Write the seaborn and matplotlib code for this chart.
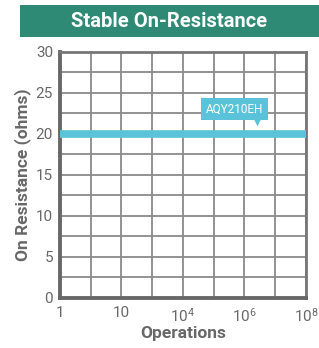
import numpy as np
import pandas as pd
import matplotlib
matplotlib.use('Agg')
import matplotlib.pyplot as plt
import seaborn as sns

# data
operations = [1, 1e8]
resistance = [20, 20]
series_name = 'AQY210EH'
tick_values = [1, 10, 1e4, 1e6, 1e8]
tick_labels = ['1', '10', '$10^4$', '$10^6$', '$10^8$']
y_ticks = [0, 5, 10, 15, 20, 25, 30]

df = pd.DataFrame({'Operations': operations, 'Resistance': resistance})

sns.set_style('white')
plt.rcParams['font.family'] = ['Roboto', 'DejaVu Sans']
plt.rcParams['mathtext.default'] = 'regular'

gray = '#686868'
grid_gray = '#8a8a8a'
blue = '#5bc3d9'
green = '#2e8a74'

# the x axis spaces its ticks evenly, it is not a true log scale
log_ticks = np.log10(tick_values)
pos_ticks = np.arange(len(tick_values)) * 2.0

def fwd(x):
    return np.interp(np.log10(np.clip(x, 1e-12, None)), log_ticks, pos_ticks)

def inv(p):
    return 10 ** np.interp(p, pos_ticks, log_ticks)

fig = plt.figure(figsize=(3.19, 3.48), dpi=100)
ax = fig.add_axes([0.188, 0.1437, 0.771, 0.707])
ax.set_xscale('function', functions=(fwd, inv))

sns.lineplot(data=df, x='Operations', y='Resistance', color=blue, linewidth=5.5, ax=ax,
             solid_capstyle='butt', zorder=3)

ax.set_xlim(1, 1e8)
ax.set_ylim(0, 30)
ax.set_xticks(tick_values)
ax.set_xticklabels(tick_labels)
ax.set_xticks(inv(pos_ticks[:-1] + 1), minor=True)
ax.set_yticks(y_ticks)
ax.set_yticks(np.arange(2.5, 30, 5), minor=True)
ax.grid(True, which='both', color=grid_gray, linewidth=1.3)
ax.tick_params(which='both', length=0, colors=gray, labelsize=11, pad=5)
ax.tick_params(axis='x', pad=6)

for side in ['top', 'right']:
    ax.spines[side].set_color('#777777')
    ax.spines[side].set_linewidth(2)
for side in ['left', 'bottom']:
    ax.spines[side].set_color(gray)
    ax.spines[side].set_linewidth(2.8)

ax.set_xlabel('Operations', fontsize=12.5, fontweight='bold', color=gray, labelpad=1)
ax.set_ylabel('On Resistance (ohms)', fontsize=12.5, fontweight='bold', color=gray, labelpad=3)

# series label box with pointer
ax.text(10 ** 5.67, 23.05, series_name, color='white', fontsize=8.5, ha='center', va='center',
        bbox=dict(boxstyle='square,pad=0.4', facecolor=blue, edgecolor='none'), zorder=5)
ax.scatter([10 ** 6.4], [21.5], marker='v', s=30, color=blue, zorder=5, linewidths=0)

# title bar
fig.patches.append(plt.Rectangle((0.063, 0.894), 0.937, 0.092, transform=fig.transFigure,
                                 facecolor=green, edgecolor='none'))
fig.text(0.53, 0.937, 'Stable On-Resistance', color='white', fontsize=14.5, fontweight='bold',
         ha='center', va='center')

fig.savefig('out.png', dpi=100)
